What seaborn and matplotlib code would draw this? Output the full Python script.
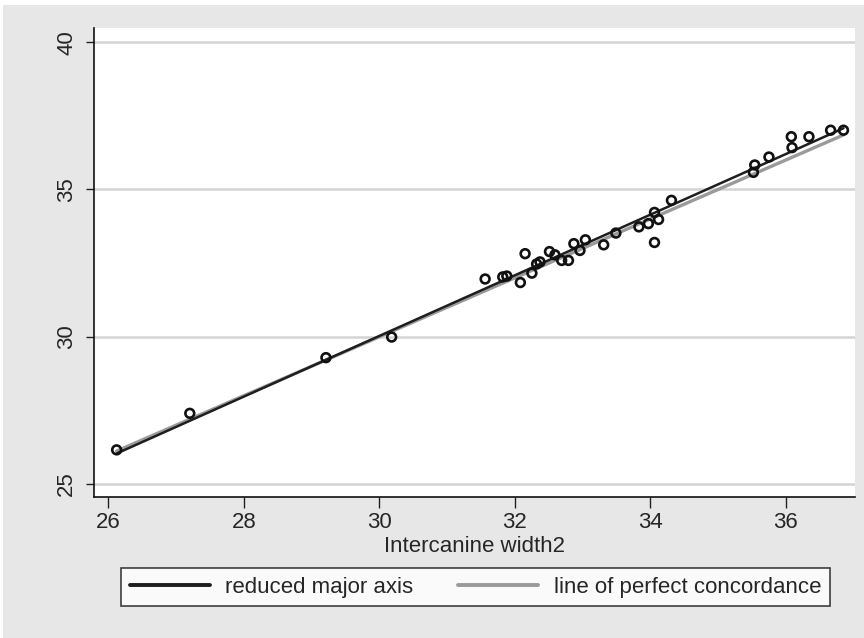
import numpy as np
import matplotlib
matplotlib.use('Agg')
import matplotlib.pyplot as plt
from matplotlib.patches import Rectangle
from matplotlib.lines import Line2D
import seaborn as sns

# Intercanine width measurements (two sessions)
width2 = [26.12, 27.20, 29.21, 30.18, 31.56, 31.82, 31.88, 32.08, 32.15, 32.25,
          32.32, 32.37, 32.51, 32.59, 32.69, 32.79, 32.87, 32.96, 33.04, 33.31,
          33.49, 33.83, 33.97, 34.06, 34.12, 34.06, 34.31, 35.52, 35.54, 35.75,
          36.08, 36.09, 36.34, 36.66, 36.85]
width1 = [26.16, 27.40, 29.29, 29.99, 31.96, 32.03, 32.06, 31.84, 32.82, 32.16,
          32.47, 32.54, 32.89, 32.78, 32.59, 32.59, 33.16, 32.93, 33.29, 33.12,
          33.52, 33.73, 33.84, 33.20, 33.98, 34.22, 34.63, 35.58, 35.83, 36.10,
          36.79, 36.42, 36.79, 37.01, 37.01]
x_ticks = [26, 28, 30, 32, 34, 36]
y_ticks = [25, 30, 35, 40]

x = np.array(width2)
y = np.array(width1)

# reduced major axis
r = np.corrcoef(x, y)[0, 1]
slope = np.sign(r) * y.std(ddof=1) / x.std(ddof=1)
intercept = y.mean() - slope * x.mean()
xl = np.array([x.min(), x.max()])

sns.set_style('white')
plt.rcParams['font.family'] = ['Liberation Sans', 'DejaVu Sans']

fig = plt.figure(figsize=(8.64, 6.38), dpi=100, facecolor='white')
fig.patches.append(Rectangle((3 / 864, 0), 1, 1 - 5 / 638, transform=fig.transFigure,
                             facecolor='#e7e7e7', edgecolor='none', zorder=-10))
ax = fig.add_axes([94 / 864, 1 - 497 / 638, (855 - 94) / 864, (497 - 28) / 638])
ax.set_facecolor('white')

for yt in y_ticks:
    ax.axhline(yt, color='#d4d4d4', lw=1.8, zorder=0)

sns.lineplot(x=xl, y=xl, color='#9a9a9a', lw=2.4, ax=ax, zorder=2)
sns.lineplot(x=xl, y=intercept + slope * xl, color='#1e1e1e', lw=1.8, ax=ax, zorder=3)
sns.scatterplot(x=x, y=y, marker='o', s=40, facecolor='none', edgecolor='#111111',
                linewidth=1.9, ax=ax, zorder=4)

ax.set_xlim(25.786, 37.02)
ax.set_ylim(24.56, 40.48)
ax.set_xticks(x_ticks)
ax.set_yticks(y_ticks)
ax.tick_params(axis='x', direction='out', length=8, width=1, color='#222222',
               labelsize=16, pad=3, bottom=True)
ax.tick_params(axis='y', direction='out', length=6, width=1, color='#222222',
               labelsize=16, pad=6, left=True, labelrotation=90)
for lab in ax.get_yticklabels():
    lab.set_va('center')
ax.set_xlabel('Intercanine width2', fontsize=16, labelpad=2)
ax.set_ylabel('')

for side in ['top', 'right']:
    ax.spines[side].set_visible(False)
for side in ['left', 'bottom']:
    ax.spines[side].set_color('#111111')
    ax.spines[side].set_linewidth(1.2)

handles = [Line2D([], [], color='#1e1e1e', lw=2.8),
           Line2D([], [], color='#9a9a9a', lw=2.8)]
leg = fig.legend(handles, ['reduced major axis', 'line of perfect concordance'],
                 loc='center', bbox_to_anchor=(475.5 / 864, 1 - 587 / 638), ncol=2,
                 fontsize=16, frameon=True, fancybox=False, handlelength=3.6,
                 handletextpad=0.7, columnspacing=2.0, borderpad=0.4)
leg.get_frame().set_edgecolor('#111111')
leg.get_frame().set_linewidth(1.2)
leg.get_frame().set_facecolor('white')

fig.savefig('out.png', dpi=100)
